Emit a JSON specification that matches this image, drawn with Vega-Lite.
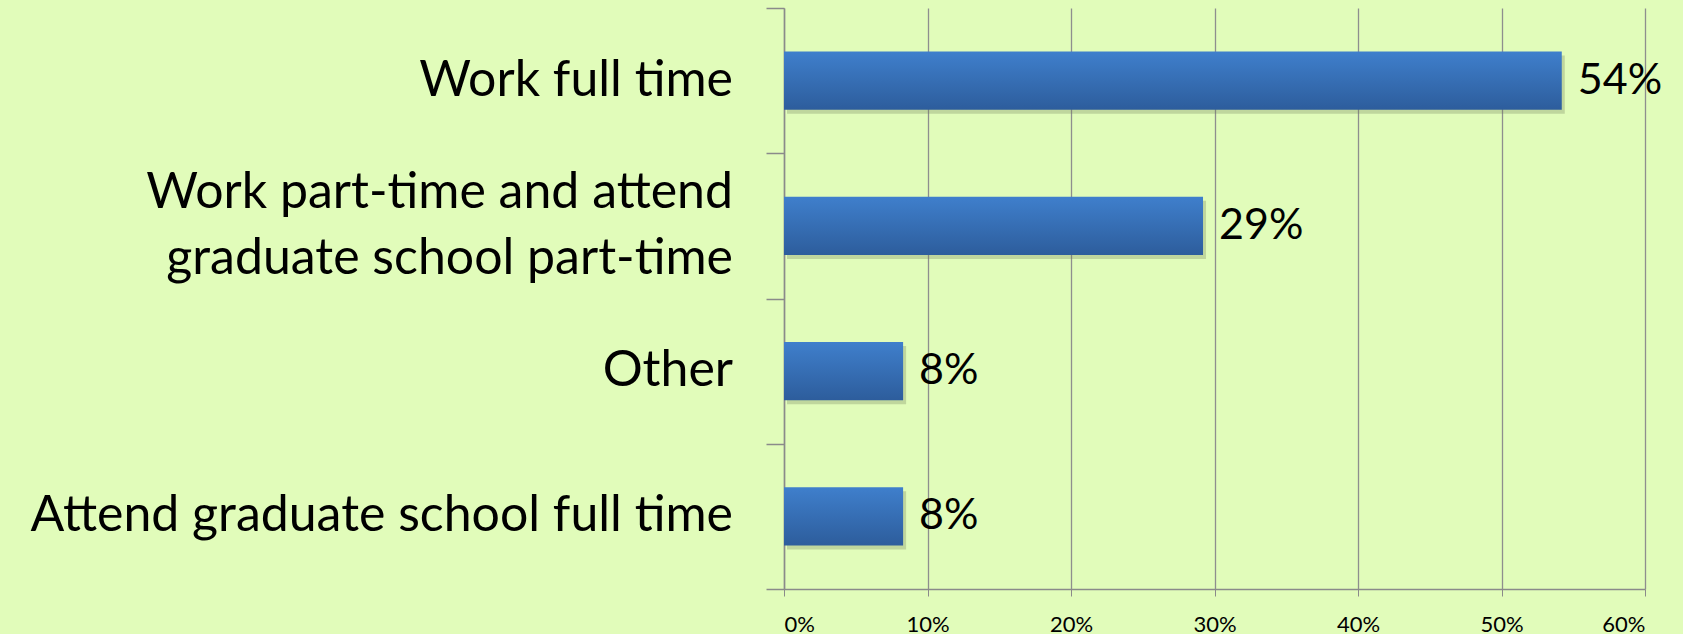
{
  "$schema": "https://vega.github.io/schema/vega-lite/v6.json",
  "width": 861,
  "height": 581,
  "autosize": "none",
  "padding": {"left": 784, "top": 8, "right": 38, "bottom": 45},
  "background": "#E1FCBA",
  "data": {
    "values": [
      {"category": "Work full time", "line1": "Work full time", "line2": "", "share": 0.542},
      {"category": "Work part-time and attend graduate school part-time", "line1": "Work part-time and attend", "line2": "graduate school part-time", "share": 0.292},
      {"category": "Other", "line1": "Other", "line2": "", "share": 0.083},
      {"category": "Attend graduate school full time", "line1": "Attend graduate school full time", "line2": "", "share": 0.083}
    ]
  },
  "config": {
    "view": {"stroke": null},
    "font": "Lato"
  },
  "encoding": {
    "y": {
      "field": "category",
      "type": "nominal",
      "sort": null,
      "scale": {"paddingInner": 0, "paddingOuter": 0},
      "axis": {
        "title": null,
        "labels": false,
        "tickBand": "extent",
        "tickSize": 18,
        "tickColor": "#8a8a8a",
        "domainColor": "#8a8a8a",
        "tickWidth": 1.5,
        "domainWidth": 1.5
      }
    },
    "x": {
      "field": "share",
      "type": "quantitative",
      "scale": {"domain": [0, 0.6]},
      "axis": {
        "title": null,
        "values": [0, 0.1, 0.2, 0.3, 0.4, 0.5, 0.6],
        "format": ".0%",
        "grid": true,
        "gridColor": "#8e8e8e",
        "gridWidth": 1.3,
        "domainColor": "#8a8a8a",
        "domainWidth": 1.5,
        "tickColor": "#8a8a8a",
        "tickSize": 7,
        "labelFont": "Lato",
        "labelFontSize": 22,
        "labelColor": "#000000",
        "labelPadding": 18
      }
    }
  },
  "layer": [
    {
      "mark": {"type": "bar", "height": {"band": 0.4}, "color": "#6f7f5a", "opacity": 0.3, "xOffset": 3, "yOffset": 4}
    },
    {
      "mark": {
        "type": "bar",
        "height": {"band": 0.4},
        "color": {
          "gradient": "linear",
          "x1": 0, "y1": 0, "x2": 0, "y2": 1,
          "stops": [
            {"offset": 0, "color": "#3F7FCC"},
            {"offset": 1, "color": "#2D5D9C"}
          ]
        }
      }
    },
    {
      "mark": {"type": "text", "align": "left", "baseline": "middle", "dx": 16, "fontSize": 43, "font": "Lato", "color": "#000000"},
      "encoding": {
        "text": {"field": "share", "type": "quantitative", "format": ".0%"}
      }
    },
    {
      "transform": [{"filter": "datum.line2 == ''"}],
      "mark": {"type": "text", "align": "right", "baseline": "middle", "dx": -51, "fontSize": 50, "font": "Lato", "color": "#000000"},
      "encoding": {
        "x": {"datum": 0},
        "text": {"field": "line1", "type": "nominal"}
      }
    },
    {
      "transform": [{"filter": "datum.line2 != ''"}],
      "mark": {"type": "text", "align": "right", "baseline": "middle", "dx": -51, "dy": -33, "fontSize": 50, "font": "Lato", "color": "#000000"},
      "encoding": {
        "x": {"datum": 0},
        "text": {"field": "line1", "type": "nominal"}
      }
    },
    {
      "transform": [{"filter": "datum.line2 != ''"}],
      "mark": {"type": "text", "align": "right", "baseline": "middle", "dx": -51, "dy": 33, "fontSize": 50, "font": "Lato", "color": "#000000"},
      "encoding": {
        "x": {"datum": 0},
        "text": {"field": "line2", "type": "nominal"}
      }
    }
  ]
}
